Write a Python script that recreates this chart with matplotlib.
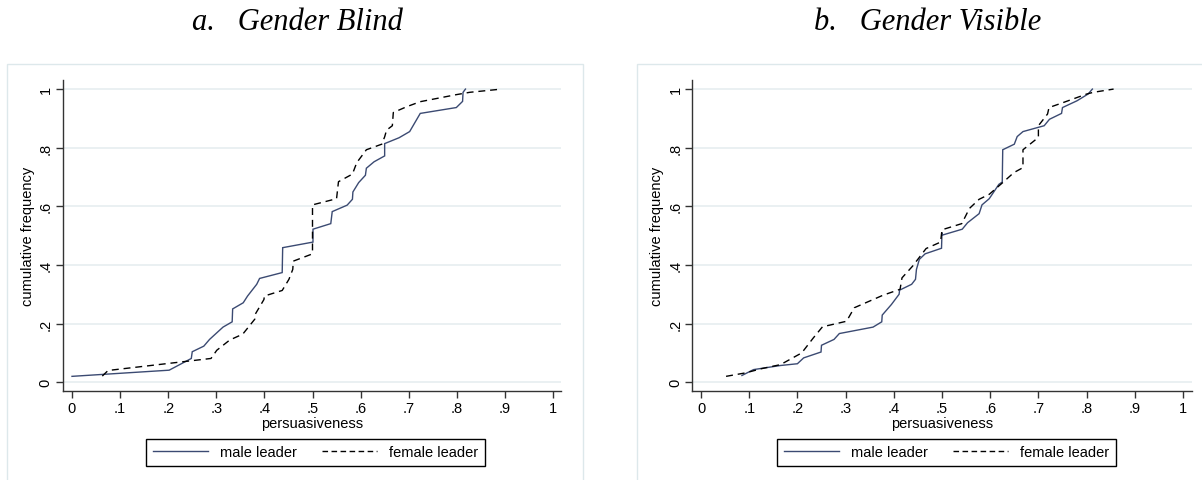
import numpy as np
import matplotlib.pyplot as plt
from matplotlib.patches import Rectangle
from matplotlib.lines import Line2D

# cumulative distribution curves
blind_male_x = [0, .202, .248, .250, .274, .286, .314, .333, .334, .356, .365, .384, .39, .437, .438,
                .501, .501, .538, .541, .572, .583, .584, .596, .61, .612, .628, .65, .65, .68, .702,
                .724, .799, .812, .813, .818]
blind_male_y = [.02, .041, .081, .104, .123, .146, .188, .206, .25, .271, .294, .334, .354, .374, .459,
                .478, .522, .541, .582, .604, .624, .649, .681, .706, .73, .752, .772, .814, .834, .855,
                .917, .937, .958, .989, 1.0]

blind_female_x = [.063, .075, .289, .301, .328, .355, .38, .381, .399, .40, .437, .451, .459, .46, .497,
                  .5, .5, .55, .554, .583, .592, .612, .644, .65, .654, .666, .668, .696, .724, .799,
                  .827, .893]
blind_female_y = [.021, .04, .081, .109, .144, .164, .215, .232, .282, .294, .313, .351, .385, .413, .436,
                  .44, .605, .626, .684, .71, .749, .793, .812, .837, .86, .875, .92, .94, .957, .981,
                  .989, 1.0]

visible_male_x = [.085, .109, .165, .2, .213, .249, .25, .276, .287, .357, .375, .376, .395, .411, .412,
                  .437, .445, .447, .453, .465, .499, .5, .501, .542, .553, .577, .583, .598, .618, .625,
                  .626, .65, .656, .668, .712, .723, .748, .75, .78, .803, .812]
visible_male_y = [.023, .043, .057, .063, .083, .103, .126, .146, .166, .188, .206, .229, .265, .3, .314,
                  .334, .351, .385, .419, .438, .457, .51, .502, .522, .544, .575, .605, .626, .675, .683,
                  .793, .812, .838, .855, .875, .897, .917, .937, .96, .983, 1.0]

visible_female_x = [.052, .093, .125, .165, .209, .233, .252, .302, .318, .378, .413, .417, .439, .467,
                    .497, .5, .541, .557, .577, .598, .626, .649, .668, .668, .70, .70, .719, .722, .748,
                    .8, .814, .856]
visible_female_y = [.02, .032, .046, .06, .1, .151, .189, .208, .254, .297, .317, .356, .396, .456,
                    .478, .52, .541, .593, .624, .641, .681, .715, .732, .793, .835, .875, .915, .937, .952,
                    .983, .989, 1.0]

x_ticks = np.arange(0, 1.01, 0.1)
x_labels = ['0', '.1', '.2', '.3', '.4', '.5', '.6', '.7', '.8', '.9', '1']
y_ticks = np.arange(0, 1.01, 0.2)
y_labels = ['0', '.2', '.4', '.6', '.8', '1']

W, H = 1202, 481
navy = '#3b4a72'
grid_col = '#e6eef0'
frame_col = '#dde8eb'
axis_col = '#333333'

plt.rcParams['font.family'] = ['Liberation Sans', 'DejaVu Sans']

fig = plt.figure(figsize=(W / 100, H / 100), dpi=100)

# light boxes around each panel
for x0, x1 in [(7, 582.5), (637, 1230)]:
    fig.add_artist(Rectangle((x0 / W, -0.1), (x1 - x0) / W, (H - 65) / H + 0.1,
                             transform=fig.transFigure, fill=False,
                             edgecolor=frame_col, lw=1.0))


def draw_panel(left_px, right_px, x0_px, x1_px, mx, my, fx, fy, title, title_x, leg_x):
    top_px, bot_px = 80.7, 392
    ax = fig.add_axes([left_px / W, 1 - bot_px / H, (right_px - left_px) / W, (bot_px - top_px) / H])
    unit = x1_px - x0_px
    ax.set_xlim(-(x0_px - left_px) / unit, (right_px - x0_px) / unit)
    ax.set_ylim(-0.03, 1.032)

    ax.plot(mx, my, color=navy, lw=1.0, solid_joinstyle='miter')
    ax.plot(fx, fy, color='black', lw=1.0, linestyle=(0, (5, 3.5)))

    ax.set_xticks(x_ticks)
    ax.set_xticklabels(x_labels, fontsize=10.5)
    ax.set_yticks(y_ticks)
    ax.set_yticklabels(y_labels, fontsize=10.5, rotation=90, va='center')
    ax.tick_params(direction='out', length=5, width=1, color=axis_col, pad=2)
    ax.yaxis.grid(True, color=grid_col, lw=1.2)
    ax.set_axisbelow(True)
    for s in ['top', 'right']:
        ax.spines[s].set_visible(False)
    for s in ['left', 'bottom']:
        ax.spines[s].set_color(axis_col)
        ax.spines[s].set_linewidth(1.0)

    ax.set_xlabel('persuasiveness', fontsize=10.5, labelpad=1)
    ax.set_ylabel('cumulative frequency', fontsize=10.5, labelpad=3)

    handles = [Line2D([], [], color=navy, lw=1.0),
               Line2D([], [], color='black', lw=1.0, linestyle=(0, (4, 2.5)))]
    leg = ax.legend(handles, ['male leader', 'female leader'], ncol=2,
                    loc='center', bbox_to_anchor=(leg_x / W, 1 - 453.5 / H),
                    bbox_transform=fig.transFigure, fontsize=10.5,
                    frameon=True, fancybox=False, edgecolor='black', framealpha=1,
                    handlelength=3.8, columnspacing=1.7, handletextpad=0.8,
                    borderpad=0.45)
    leg.get_frame().set_linewidth(1.0)

    fig.text(title_x / W, 1 - 22 / H, title, ha='center', va='center',
             family='Liberation Serif', style='italic', fontsize=22)
    return ax


draw_panel(62.5, 561, 72, 553, blind_male_x, blind_male_y, blind_female_x, blind_female_y,
           'a.   Gender Blind', 297, 315.5)
draw_panel(692.3, 1192, 701, 1183, visible_male_x, visible_male_y, visible_female_x, visible_female_y,
           'b.   Gender Visible', 928, 946.5)

fig.savefig('out.png', dpi=100)
